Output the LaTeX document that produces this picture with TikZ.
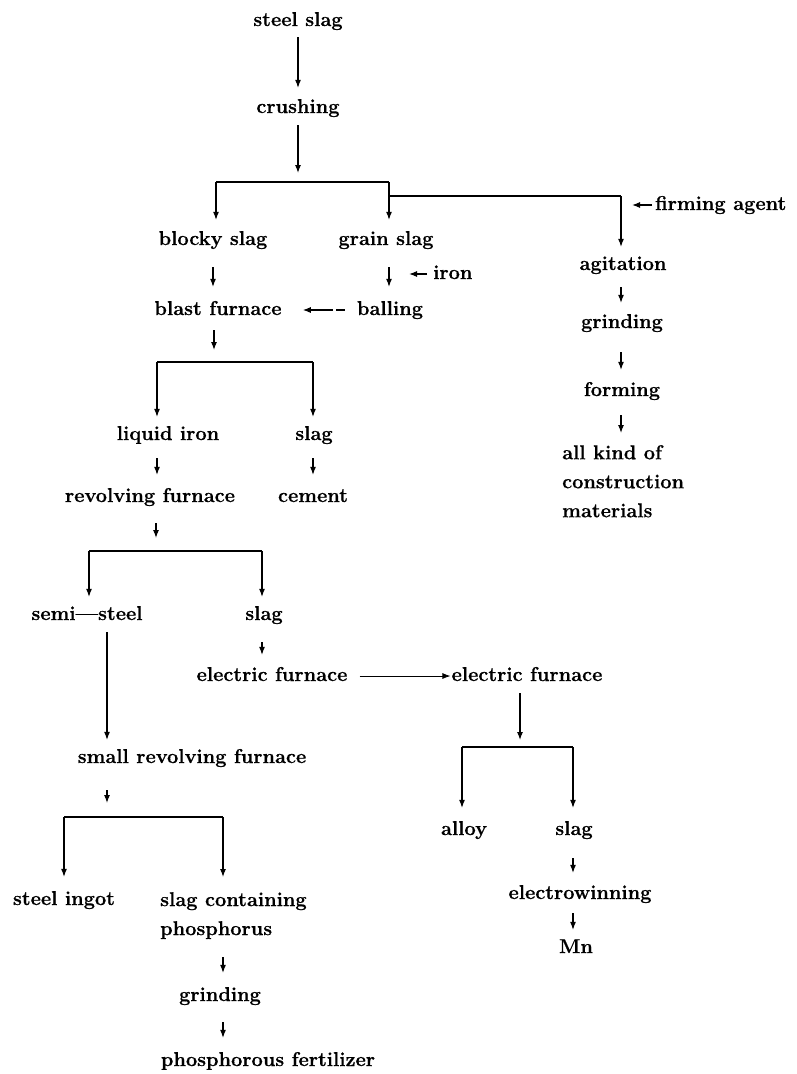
\documentclass[tikz,border=0pt]{standalone}
\usepackage{fontspec}
\setmainfont{Latin Modern Roman}[BoldFeatures={FakeBold=0.6}]
\usetikzlibrary{arrows.meta}
\begin{document}
\begin{tikzpicture}[x=1pt,y=-1pt,
  lbl/.style={inner sep=0pt, text height=14pt, text depth=4pt, font=\fontsize{20}{29}\selectfont\bfseries},
  lblm/.style={inner sep=0pt, align=left, font=\fontsize{20}{29}\selectfont\bfseries},
  arr/.style={-{Latex[length=8pt,width=6pt]}, line width=1.1pt},
  ln/.style={line width=1.1pt}]
\useasboundingbox (0,0) rectangle (796,1074);
% nodes
\node[lbl] (steel) at (298,21) {steel slag};
\node[lbl] (crush) at (298,108) {crushing};
\node[lbl] (blocky) at (213,240) {blocky slag};
\node[lbl] (grain) at (386,240) {grain slag};
\node[lbl] (agit) at (623,265) {agitation};
\node[lbl,anchor=west] (firm) at (655,205) {firming agent};
\node[lbl,anchor=west] (iron) at (433,274) {iron};
\node[lbl] (blast) at (218,310) {blast furnace};
\node[lbl] (balling) at (390,310) {balling};
\node[lbl] (grind1) at (622,323) {grinding};
\node[lbl] (forming) at (622,391) {forming};
\node[lblm,anchor=north west] (allkind) at (562,445) {all kind of\\construction\\materials};
\node[lbl] (liquid) at (168,435) {liquid iron};
\node[lbl] (slag1) at (314,435) {slag};
\node[lbl] (revolv) at (150,497) {revolving furnace};
\node[lbl] (cement) at (313,497) {cement};
\node[lbl] (semi) at (87,615) {semi---steel};
\node[lbl] (slag2) at (264,615) {slag};
\node[lbl] (ef1) at (272,676) {electric furnace};
\node[lbl] (ef2) at (527,676) {electric furnace};
\node[lbl] (small) at (192,758) {small revolving furnace};
\node[lbl] (alloy) at (464,830) {alloy};
\node[lbl] (slag3) at (574,830) {slag};
\node[lbl] (electro) at (580,894) {electrowinning};
\node[lbl] (mn) at (576,948) {Mn};
\node[lbl] (ingot) at (64,900) {steel ingot};
\node[lblm,anchor=north west] (slagcont) at (160,892) {slag containing\\phosphorus};
\node[lbl] (grind2) at (220,996) {grinding};
\node[lbl] (fert) at (268,1061) {phosphorous fertilizer};
% junction coordinates
\coordinate (j1) at (298,182);
\coordinate (b1l) at (216,182);
\coordinate (b1r) at (389,182);
\coordinate (f1) at (389,196);
\coordinate (f2) at (621,196);
\coordinate (j2) at (214,362);
\coordinate (b2l) at (157,362);
\coordinate (b2r) at (313,362);
\coordinate (j3) at (156,551);
\coordinate (b3l) at (89,551);
\coordinate (b3r) at (262,551);
\coordinate (s7) at (107,624);
\coordinate (j4) at (520,747);
\coordinate (b4l) at (462,747);
\coordinate (b4r) at (573,747);
\coordinate (j5) at (107,817);
\coordinate (b5l) at (64,817);
\coordinate (b5r) at (223,817);
% top
\draw[arr, shorten <=7pt, shorten >=11pt] (steel.south) -- (crush.north);
\draw[arr, shorten <=8pt, shorten >=9pt] (crush.south) -- (j1);
\draw[ln] (b1l) -- (b1r);
\draw[arr, shorten >=11pt] (b1l) -- (b1l |- blocky.north);
\draw[arr, shorten >=11pt] (b1r) -- (b1r |- grain.north);
\draw[ln] (f1) -- (f2);
\draw[arr, shorten >=9pt] (f2) -- (f2 |- agit.north);
\draw[arr, shorten <=3pt, shorten >=11pt] (firm.west) -- (f2 |- firm.west);
% right column
\draw[arr, shorten <=13pt, shorten >=11pt] (f2 |- agit.south) -- (f2 |- grind1.north);
\draw[arr, shorten <=20pt, shorten >=12pt] (f2 |- grind1.south) -- (f2 |- forming.north);
\draw[arr, shorten <=15pt, shorten >=12pt] (f2 |- forming.south) -- (f2 |- allkind.north);
% blocky / grain
\draw[arr, shorten <=18pt, shorten >=14pt] (blocky.south) -- (blocky.south |- blast.north);
\draw[arr, shorten <=18pt, shorten >=14pt] (b1r |- grain.south) -- (b1r |- balling.north);
\draw[arr, shorten <=6pt, shorten >=20pt] (iron.west) -- (b1r |- iron.west);
\draw[arr, shorten <=12pt, shorten >=21pt, dash pattern=on 9pt off 3pt on 40pt] (balling.west) -- (blast.east);
% blast furnace bracket
\draw[arr, shorten <=11pt, shorten >=12pt] (j2 |- blast.south) -- (j2);
\draw[ln] (b2l) -- (b2r);
\draw[arr, shorten >=9pt] (b2l) -- (b2l |- liquid.north);
\draw[arr, shorten >=9pt] (b2r) -- (b2r |- slag1.north);
\draw[arr, shorten <=14pt, shorten >=13pt] (b2l |- liquid.south) -- (b2l |- revolv.north);
\draw[arr, shorten <=14pt, shorten >=13pt] (b2r |- slag1.south) -- (b2r |- cement.north);
% revolving furnace bracket
\draw[arr, shorten <=17pt, shorten >=13pt] (j3 |- revolv.south) -- (j3);
\draw[ln] (b3l) -- (b3r);
\draw[arr, shorten >=9pt] (b3l) -- (b3l |- semi.north);
\draw[arr, shorten >=9pt] (b3r) -- (b3r |- slag2.north);
\draw[arr, shorten <=8pt, shorten >=9pt] (s7) -- (s7 |- small.north);
\draw[arr, shorten <=18pt, shorten >=12pt] (b3r |- slag2.south) -- (b3r |- ef1.north);
\draw[arr, line width=0.8pt, shorten <=12pt, shorten >=1pt] (ef1.east) -- (ef2.west);
% electric furnace bracket
\draw[arr, shorten <=8pt, shorten >=7pt] (j4 |- ef2.south) -- (j4);
\draw[ln] (b4l) -- (b4r);
\draw[arr, shorten >=13pt] (b4l) -- (b4l |- alloy.north);
\draw[arr, shorten >=13pt] (b4r) -- (b4r |- slag3.north);
\draw[arr, shorten <=19pt, shorten >=12pt] (b4r |- slag3.south) -- (b4r |- electro.north);
\draw[arr, shorten <=10pt, shorten >=9pt] (b4r |- electro.south) -- (b4r |- mn.north);
% small revolving furnace bracket
\draw[arr, shorten <=23pt, shorten >=14pt] (j5 |- small.south) -- (j5);
\draw[ln] (b5l) -- (b5r);
\draw[arr, shorten >=14pt] (b5l) -- (b5l |- ingot.north);
\draw[arr, shorten >=15pt] (b5r) -- (b5r |- slagcont.north);
\draw[arr, shorten <=18pt, shorten >=14pt] (b5r |- slagcont.south) -- (b5r |- grind2.north);
\draw[arr, shorten <=17pt, shorten >=14pt] (b5r |- grind2.south) -- (b5r |- fert.north);
\end{tikzpicture}
\end{document}
